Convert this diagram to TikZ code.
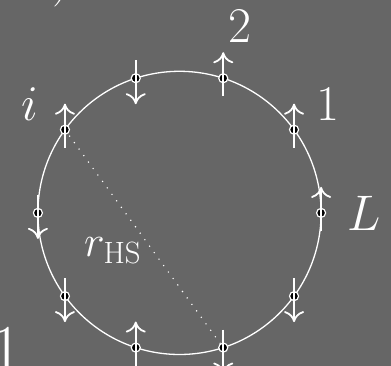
\RequirePackage{fix-cm}
\documentclass[tikz,border=0pt]{standalone}
\usetikzlibrary{arrows.meta}
\definecolor{bg}{RGB}{102,102,102}
\begin{document}
\begin{tikzpicture}[x=1pt,y=1pt,
  ring/.style={white, line width=1.3pt},
  site/.style={circle, fill=black, draw=white, line width=1.2pt, minimum size=9pt, inner sep=0pt},
  spin/.style={white, line width=1.8pt, -{To[length=11pt,width=20pt]}},
  hsline/.style={white, line width=1.6pt, line cap=round, dash pattern=on 0pt off 8pt},
  lab/.style={text=white, inner sep=0pt, font=\fontsize{50}{60}\selectfont},
  smalllab/.style={text=white, inner sep=0pt, font=\fontsize{44}{52}\selectfont},
]
\useasboundingbox[fill=bg] (0,0) rectangle (391,366);
\coordinate (O) at (179.5,153.1);
\draw[ring] (O) circle[radius=141.6];
\foreach \k in {0,...,9} \coordinate (c\k) at ([shift={(\k*36:141.6)}]O);
\draw[hsline] (c4) -- (c8);
\foreach \k in {0,...,9} \node[site] (s\k) at (c\k) {};
\foreach \k in {0,1,2,4,7} \draw[spin] ([yshift=-18]s\k.center) -- ([yshift=26]s\k.center);
\foreach \k in {3,5,6,8,9} \draw[spin] ([yshift=18]s\k.center) -- ([yshift=-26]s\k.center);
\node[lab] (l2) at (240,340) {$2$};
\node[lab] (l1) at (328,261.5) {$1$};
\node[lab] (lL) at (364,152.5) {$L$};
\node[lab] (li) at (30,261.5) {$i$};
\node[smalllab, anchor=base west] (rhs) at (84,109) {$r_{\mathrm{HS}}$};
\node[lab, anchor=south west] (f1) at (52,359) {$)$};
\node[text=white, inner sep=0pt, font=\fontsize{70}{84}\selectfont, anchor=base west] (f2) at (-10,-8) {$1$};
\end{tikzpicture}
\end{document}
